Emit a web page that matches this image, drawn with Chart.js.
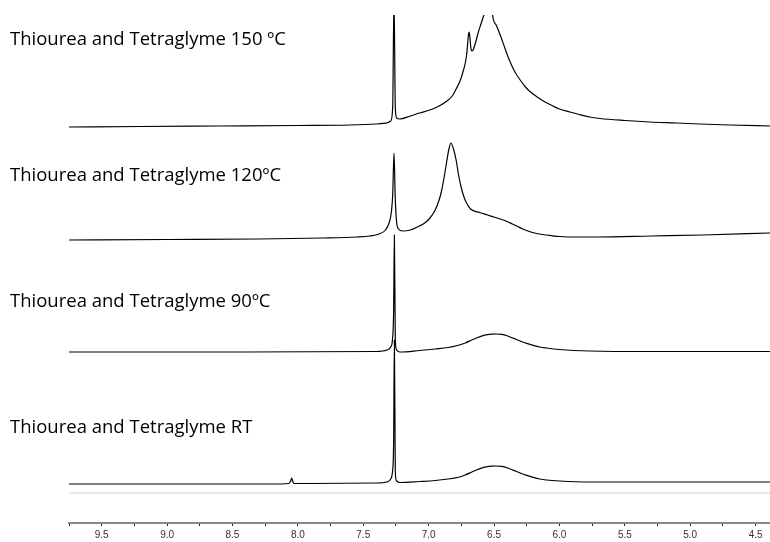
<!DOCTYPE html>
<html>
<head>
<meta charset="utf-8">
<script src="https://cdn.jsdelivr.net/npm/chart.js@4"></script>
<style>
    body { margin: 0; background: #fff; }
    #wrap { width: 770px; height: 542px; }
</style>
</head>
<body>
<div id="wrap"><canvas id="nmr" width="770" height="542"></canvas></div>
<script>
// chemical shift axis (ppm), reversed as usual for NMR
const ppmMin = 4.39;
const ppmMax = 9.75;
const tickValues = [9.75, 9.5, 9.25, 9.0, 8.75, 8.5, 8.25, 8.0, 7.75, 7.5, 7.25, 7.0, 6.75, 6.5, 6.25, 6.0, 5.75, 5.5, 5.25, 5.0, 4.75, 4.5];
const tickLabels = ['', '9.5', '', '9.0', '', '8.5', '', '8.0', '', '7.5', '', '7.0', '', '6.5', '', '6.0', '', '5.5', '', '5.0', '', '4.5'];

// spectra names and stacking offsets (bottom to top)
const spectrumNames = ['Thiourea and Tetraglyme RT', 'Thiourea and Tetraglyme 90ºC', 'Thiourea and Tetraglyme 120ºC', 'Thiourea and Tetraglyme 150 ºC'];
const offsets = [39, 171, 283, 396];

// points: shift (ppm) and intensity above baseline
const ppmRT = [9.75, 8.20, 8.07, 8.055, 8.048, 8.04, 8.03, 7.90, 7.40, 7.32, 7.29, 7.277, 7.268, 7.262, 7.255, 7.245, 7.22, 7.07, 6.95, 6.85, 6.78, 6.72, 6.67, 6.63, 6.59, 6.55, 6.52, 6.48, 6.44, 6.40, 6.35, 6.30, 6.25, 6.20, 6.15, 6.10, 6.00, 5.77, 5.30, 4.39];
const intRT = [0, 0, 0.5, 3, 6, 3, 0.5, 0.5, 1, 2, 5, 12, 40, 144, 12, 3, 1.5, 2.5, 3.5, 5, 6.5, 9, 12, 14.3, 16.2, 17.3, 17.8, 18, 17.6, 16.2, 13.6, 11, 8.6, 6.6, 5, 4, 3, 2, 2, 2];

const ppm90 = [9.75, 8.5, 7.40, 7.32, 7.29, 7.277, 7.268, 7.262, 7.255, 7.245, 7.22, 7.07, 6.95, 6.85, 6.78, 6.72, 6.67, 6.63, 6.59, 6.55, 6.52, 6.48, 6.44, 6.40, 6.35, 6.30, 6.25, 6.20, 6.15, 6.10, 6.00, 5.77, 5.30, 4.39];
const int90 = [0, 0, 0.5, 2, 5, 12, 40, 117, 12, 2, 0, 1.5, 3, 4.5, 6.5, 9, 12, 14.3, 16.2, 17.3, 17.8, 18, 17.6, 16.2, 13.6, 11, 8.6, 6.6, 5, 4, 2.5, 1, 0.5, 0.5];

const ppm120 = [9.75, 9.0, 8.3, 7.8, 7.55, 7.45, 7.38, 7.33, 7.30, 7.285, 7.275, 7.265, 7.255, 7.245, 7.23, 7.20, 7.14, 7.07, 7.03, 6.99, 6.95, 6.92, 6.90, 6.88, 6.86, 6.845, 6.83, 6.81, 6.79, 6.77, 6.75, 6.73, 6.71, 6.68, 6.61, 6.55, 6.49, 6.44, 6.40, 6.36, 6.32, 6.28, 6.24, 6.19, 6.13, 6.06, 6.00, 5.85, 5.70, 5.30, 4.90, 4.39];
const int120 = [0, 0.5, 1, 2, 3, 4, 6, 10, 18, 28, 45, 87, 40, 18, 11, 9, 10, 14, 17, 22, 30, 40, 50, 64, 80, 91, 97, 91, 80, 64, 52, 43, 37, 31, 27.5, 25, 22.5, 20.5, 18.5, 16, 13.5, 11, 9, 7, 5.5, 4.3, 3.5, 3, 3, 4, 5, 7];

const ppm150 = [9.75, 9.2, 8.6, 8.0, 7.6, 7.40, 7.32, 7.29, 7.275, 7.265, 7.255, 7.245, 7.22, 7.14, 7.07, 6.99, 6.92, 6.86, 6.82, 6.79, 6.76, 6.74, 6.72, 6.71, 6.70, 6.695, 6.69, 6.685, 6.678, 6.67, 6.66, 6.64, 6.62, 6.60, 6.58, 6.55, 6.535, 6.52, 6.51, 6.48, 6.45, 6.42, 6.38, 6.34, 6.30, 6.26, 6.23, 6.17, 6.11, 6.05, 6.00, 5.92, 5.85, 5.77, 5.69, 5.50, 5.31, 5.10, 4.93, 4.70, 4.39];
const int150 = [0, 0.5, 1, 1.5, 2, 3, 4, 6, 20, 130, 20, 9, 8, 11, 14, 17, 21, 26, 31, 38, 46, 54, 64, 72, 86, 93, 95, 90, 80, 76, 77, 85, 95, 103, 111, 123, 128, 126, 111, 101, 91, 80, 66, 55, 47, 40, 36, 30, 25, 21, 18, 15, 12.5, 10, 8.5, 6.5, 5, 4, 3, 2, 1];

// light separator line above the axis
const separatorLevel = 30;

function toPoints(ppm, intensity, offset) {
    let pts = [];
    for (let i = 0; i < ppm.length; i++) {
        pts.push({x: ppm[i], y: offset + intensity[i]});
    }
    return pts;
}

const spectra = [
    toPoints(ppmRT, intRT, offsets[0]),
    toPoints(ppm90, int90, offsets[1]),
    toPoints(ppm120, int120, offsets[2]),
    toPoints(ppm150, int150, offsets[3])
];

let datasets = spectra.map(function (pts, i) {
    return {
        label: spectrumNames[i],
        data: pts,
        borderColor: '#000',
        borderWidth: 1.2,
        pointRadius: 0,
        cubicInterpolationMode: 'monotone',
        clip: 0
    };
});

datasets.push({
    label: 'separator',
    data: [{x: ppmMax, y: separatorLevel}, {x: ppmMin, y: separatorLevel}],
    borderColor: '#d4d4d4',
    borderWidth: 1.2,
    pointRadius: 0,
    clip: 0
});

// spectrum captions, drawn as canvas text to the left of each trace
const labelPlugin = {
    id: 'spectrumLabels',
    afterDraw: function (chart) {
        let ctx = chart.ctx;
        let yScale = chart.scales.y;
        const captionLift = [51, 45, 59, 82];
        ctx.save();
        ctx.font = '18.5px "Open Sans"';
        ctx.fillStyle = '#000';
        ctx.textBaseline = 'alphabetic';
        for (let i = 0; i < spectrumNames.length; i++) {
            let y = yScale.getPixelForValue(offsets[i]) - captionLift[i];
            ctx.fillText(spectrumNames[i], 10, y);
        }
        ctx.restore();
    }
};

let ctx = document.getElementById('nmr').getContext('2d');
let chart = new Chart(ctx, {
    type: 'line',
    data: {datasets: datasets},
    plugins: [labelPlugin],
    options: {
        responsive: false,
        devicePixelRatio: 1,
        animation: false,
        layout: {padding: {left: 69, right: 0, top: 15, bottom: 0}},
        plugins: {legend: {display: false}, tooltip: {enabled: false}},
        scales: {
            x: {
                type: 'linear',
                reverse: true,
                min: ppmMin,
                max: ppmMax,
                afterBuildTicks: function (scale) {
                    scale.ticks = tickValues.map(function (v) { return {value: v}; });
                },
                afterFit: function (scale) { scale.height = 19; },
                ticks: {
                    autoSkip: false,
                    maxRotation: 0,
                    padding: 3,
                    color: '#333',
                    font: {family: 'Liberation Sans', size: 10},
                    callback: function (value) {
                        let idx = tickValues.indexOf(value);
                        return idx >= 0 ? tickLabels[idx] : '';
                    }
                },
                grid: {display: true, drawOnChartArea: false, drawTicks: true, tickLength: 3, color: '#222'},
                border: {display: true, color: '#8a8a8a', width: 2}
            },
            y: {
                display: false,
                min: 0,
                max: 508
            }
        }
    }
});
</script>
</body>
</html>
